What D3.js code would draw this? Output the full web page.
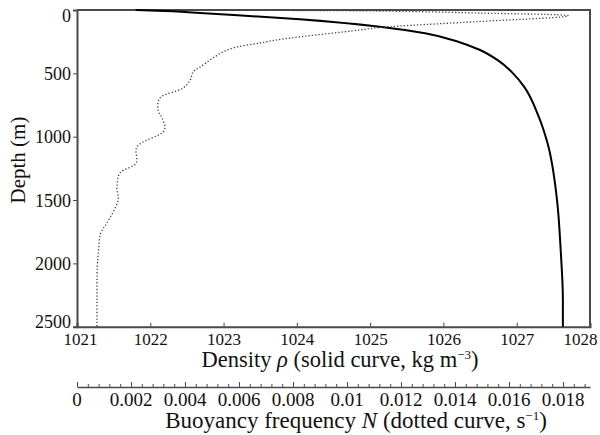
<!DOCTYPE html>
<html>
<head>
<meta charset="utf-8">
<script src="https://cdn.jsdelivr.net/npm/d3@7"></script>
<style>
  body { margin: 0; background: #fff; }
  text { font-family: "Liberation Serif", "Times New Roman", serif; fill: #111; }
</style>
</head>
<body>
<div id="container"></div>
<script>
/* DATA */
// density profile (solid curve)
const rhoDepth = [0, 10, 24, 73, 132, 184, 250, 316, 400, 500, 605, 842, 1050, 1500, 1895, 2290, 2500]
const rhoValue = [1021.8, 1022.3, 1022.68, 1024.04, 1025.13, 1025.75, 1026.2, 1026.5, 1026.75, 1026.95, 1027.1, 1027.3, 1027.42, 1027.55, 1027.6, 1027.63, 1027.63]

// buoyancy frequency profile (dotted curve)
const nDepth = [0, 2, 8, 24, 45, 51, 91, 138, 158, 229, 260, 316, 450, 489, 553, 616, 695, 789, 853, 924, 963, 1081, 1208, 1287, 1397, 1500, 1681, 1760, 1895, 2029, 2290, 2500]
const nValue = [0.0052, 0.006, 0.0112, 0.0149, 0.0182, 0.0181, 0.0149, 0.01122, 0.01048, 0.00763, 0.00678, 0.00556, 0.00456, 0.0043, 0.00419, 0.00393, 0.00307, 0.003, 0.00315, 0.00326, 0.00319, 0.00222, 0.00219, 0.00159, 0.00148, 0.00152, 0.00111, 0.00088, 0.0008, 0.00075, 0.00074, 0.00074]

// tick labels
const depthTicks = [0, 500, 1000, 1500, 2000, 2500]
const rhoTicks = [1021, 1022, 1023, 1024, 1025, 1026, 1027, 1028]
const nTicks = [0, 0.002, 0.004, 0.006, 0.008, 0.01, 0.012, 0.014, 0.016, 0.018]
const nMinorStep = 0.0004

/* CONSTANTS */
const width = 600, height = 435
const margin = { top: 10, left: 77, right: 10, bottom: 109 }
const nAxisY = 387
const axisColor = "#4a4a4a"
const serif = "'Liberation Serif', 'Times New Roman', serif"

const svg = d3.select("#container")
  .append("svg")
  .attr("width", width)
  .attr("height", height)
  .attr("font-family", serif)

// SCALES
const xScale = d3.scaleLinear()
  .domain([1021, 1028])
  .range([margin.left, width - margin.right])

const yScale = d3.scaleLinear()
  .domain([0, 2500])
  .range([margin.top, height - margin.bottom + 0.7])

const nScale = d3.scaleLinear()
  .domain([0, 0.019])
  .range([margin.left, width - margin.right])

// frame (top + right)
svg.append("path")
  .attr("d", `M${xScale(1021)},${yScale(0)}H${xScale(1028)}V${yScale(2500)}`)
  .attr("fill", "none")
  .attr("stroke", axisColor)
  .attr("stroke-width", 2)

// AXES
const yAxis = d3.axisLeft(yScale)
  .tickValues(depthTicks)
  .tickSize(4)
  .tickPadding(2)
  .tickFormat(d3.format("d"))

const yG = svg.append("g")
  .attr("transform", `translate(${margin.left},0)`)
  .call(yAxis)
  .attr("font-family", serif)
// end labels pulled inward, like the original
yG.selectAll("text").attr("font-size", 18)
  .attr("dy", d => d === 0 ? "0.62em" : d === 2500 ? "0.02em" : "0.34em")

const xAxis = d3.axisBottom(xScale)
  .tickValues(rhoTicks)
  .tickSize(-4)
  .tickPadding(6)
  .tickFormat(d3.format("d"))

const xG = svg.append("g")
  .attr("transform", `translate(0,${yScale(2500)})`)
  .call(xAxis)
  .attr("font-family", serif)
xG.selectAll("text").attr("font-size", 17)
  .attr("dx", d => d === 1028 ? -10 : d === 1021 ? 3 : 0)

svg.selectAll(".domain").attr("stroke", axisColor).attr("stroke-width", 2)
svg.selectAll(".tick line").attr("stroke", axisColor).attr("stroke-width", 1)

// second axis for N
const nAxisMinor = d3.axisTop(nScale)
  .tickValues(d3.range(0, 0.0189, nMinorStep))
  .tickSize(3)
  .tickSizeOuter(0)
  .tickFormat("")

const nG = svg.append("g")
  .attr("transform", `translate(0,${nAxisY})`)
  .call(nAxisMinor)
nG.select(".domain").attr("stroke", axisColor).attr("stroke-width", 1.5)
nG.selectAll(".tick line").attr("stroke", axisColor)

const nAxisMajor = d3.axisTop(nScale)
  .tickValues(nTicks)
  .tickSize(5)
  .tickFormat("")
const nG2 = svg.append("g")
  .attr("transform", `translate(0,${nAxisY})`)
  .call(nAxisMajor)
nG2.select(".domain").remove()
nG2.selectAll(".tick line").attr("stroke", axisColor)

svg.append("g")
  .selectAll("text")
  .data(nTicks)
  .join("text")
  .attr("x", d => nScale(d))
  .attr("y", nAxisY + 19)
  .attr("text-anchor", "middle")
  .attr("font-size", 19)
  .text(d => d)

// AXIS TITLES
const rhoLabel = svg.append("text")
  .attr("x", 340)
  .attr("y", 367)
  .attr("text-anchor", "middle")
  .attr("font-size", 22.5)
rhoLabel.append("tspan").text("Density ")
rhoLabel.append("tspan").attr("font-style", "italic").text("ρ")
rhoLabel.append("tspan").text(" (solid curve, kg m")
rhoLabel.append("tspan").attr("font-size", 13).attr("dy", -8).text("−3")
rhoLabel.append("tspan").attr("dy", 8).text(")")

const nLabel = svg.append("text")
  .attr("x", 356)
  .attr("y", 428)
  .attr("text-anchor", "middle")
  .attr("font-size", 23)
nLabel.append("tspan").text("Buoyancy frequency ")
nLabel.append("tspan").attr("font-style", "italic").text("N")
nLabel.append("tspan").text(" (dotted curve, s")
nLabel.append("tspan").attr("font-size", 13).attr("dy", -8).text("−1")
nLabel.append("tspan").attr("dy", 8).text(")")

svg.append("text")
  .attr("transform", `translate(25,160) rotate(-90)`)
  .attr("text-anchor", "middle")
  .attr("font-size", 21)
  .text("Depth (m)")

// LINES
const rhoLine = d3.line()
  .x(i => xScale(rhoValue[i]))
  .y(i => yScale(rhoDepth[i]))
  .curve(d3.curveMonotoneY)

svg.append("path")
  .attr("d", rhoLine(d3.range(rhoDepth.length)))
  .attr("fill", "none")
  .attr("stroke", "#000")
  .attr("stroke-width", 2)

const nLine = d3.line()
  .x(i => nScale(nValue[i]))
  .y(i => yScale(nDepth[i]))
  .curve(d3.curveCatmullRom)

svg.append("path")
  .attr("d", nLine(d3.range(nDepth.length)))
  .attr("fill", "none")
  .attr("stroke", "#444")
  .attr("stroke-width", 1.3)
  .attr("stroke-dasharray", "1.3,2")
</script>
</body>
</html>
